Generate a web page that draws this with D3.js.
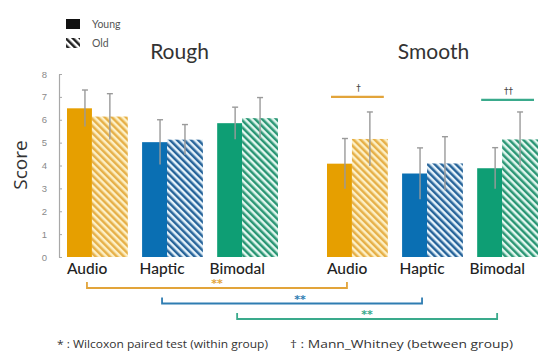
<!DOCTYPE html>
<html>
<head>
<meta charset="utf-8">
<script src="https://cdn.jsdelivr.net/npm/d3@7"></script>
<style>
  body { margin: 0; background: #fff; }
  svg { display: block; }
</style>
</head>
<body>
<div id="chart"></div>
<script>
// data
var textures = ['Rough', 'Smooth'];
var modalities = ['Audio', 'Haptic', 'Bimodal'];
var ageGroups = ['Young', 'Old'];

var roughYoung = [6.5, 5.02, 5.85];
var roughOld = [6.14, 5.13, 6.07];
var smoothYoung = [4.08, 3.65, 3.88];
var smoothOld = [5.16, 4.09, 5.14];

var roughYoungErr = [0.8, 0.98, 0.7];
var roughOldErr = [1.0, 0.66, 0.9];
var smoothYoungErr = [1.1, 1.12, 0.9];
var smoothOldErr = [1.18, 1.17, 1.2];

var yTicks = [0, 1, 2, 3, 4, 5, 6, 7, 8];

// within group (rough vs smooth, young) -> "**"
var withinMarks = ['**', '**', '**'];
// between group (young vs old) marks
var betweenTexture = ['Smooth', 'Smooth'];
var betweenModality = ['Audio', 'Bimodal'];
var betweenMarks = ['\u2020', '\u2020\u2020'];

var footnotes = ['* : Wilcoxon paired test (within group)', '\u2020 : Mann_Whitney (between group)'];

var W = 539, H = 352;

var solid = { Audio: '#E69F00', Haptic: '#0A6FB3', Bimodal: '#0E9E74' };
var stripe = { Audio: '#E6B048', Haptic: '#27649A', Bimodal: '#2A9674' };
var stripeBg = { Audio: '#FDF0C6', Haptic: '#E6F3FB', Bimodal: '#E2F7EF' };
var bracketCol = { Audio: '#E2A43A', Haptic: '#2F7DB2', Bimodal: '#3AAA8C' };

var svg = d3.select('#chart').append('svg')
  .attr('width', W)
  .attr('height', H);

var defs = svg.append('defs');
function hatch(id, fg, bg) {
  var p = defs.append('pattern')
    .attr('id', id)
    .attr('patternUnits', 'userSpaceOnUse')
    .attr('width', 5)
    .attr('height', 5)
    .attr('patternTransform', 'rotate(-45)');
  p.append('rect').attr('width', 5).attr('height', 5).attr('fill', bg);
  p.append('rect').attr('width', 2.5).attr('height', 5).attr('fill', fg);
}
modalities.forEach(function(m) { hatch('hatch-' + m, stripe[m], stripeBg[m]); });
hatch('hatch-legend', '#222', '#fff');

// scales
var y = d3.scaleLinear().domain([0, 8]).range([257, 74]);

var xRough = d3.scaleBand().domain(modalities).range([67, 278]).paddingInner(0.19);
var xSmooth = d3.scaleBand().domain(modalities).range([327, 538]).paddingInner(0.19);
var xTex = d3.scaleOrdinal().domain(textures).range([xRough, xSmooth]);
var bw = xRough.bandwidth();
var youngW = bw * 0.41; // young bar is the narrower solid part

// rows
var means = { Rough: [roughYoung, roughOld], Smooth: [smoothYoung, smoothOld] };
var errs = { Rough: [roughYoungErr, roughOldErr], Smooth: [smoothYoungErr, smoothOldErr] };
var rows = [];
textures.forEach(function(t) {
  modalities.forEach(function(m, i) {
    ageGroups.forEach(function(g, j) {
      rows.push({ texture: t, modality: m, group: g, mean: means[t][j][i], err: errs[t][j][i] });
    });
  });
});

function barX(d) {
  var x0 = xTex(d.texture)(d.modality);
  return d.group === 'Young' ? x0 : x0 + youngW;
}
function barW(d) {
  return d.group === 'Young' ? youngW : bw - youngW;
}
function errX(d) {
  return d.group === 'Young' ? barX(d) + youngW * 0.72 : barX(d) + barW(d) / 2;
}

// bars
svg.selectAll('.bar')
  .data(rows)
  .enter()
  .append('rect')
    .attr('class', 'bar')
    .attr('x', barX)
    .attr('width', barW)
    .attr('y', function(d) { return y(d.mean); })
    .attr('height', function(d) { return y(0) - y(d.mean); })
    .attr('fill', function(d) {
      return d.group === 'Young' ? solid[d.modality] : 'url(#hatch-' + d.modality + ')';
    });

// error bars
var eb = svg.selectAll('.err')
  .data(rows)
  .enter()
  .append('g')
    .attr('class', 'err')
    .attr('stroke', '#9a9a9a')
    .attr('stroke-width', 1.4);
eb.append('line')
  .attr('x1', errX).attr('x2', errX)
  .attr('y1', function(d) { return y(d.mean - d.err); })
  .attr('y2', function(d) { return y(d.mean + d.err); });
eb.append('line')
  .attr('x1', function(d) { return errX(d) - 3; })
  .attr('x2', function(d) { return errX(d) + 3; })
  .attr('y1', function(d) { return y(d.mean + d.err); })
  .attr('y2', function(d) { return y(d.mean + d.err); });

// y axis
var yAxis = d3.axisLeft(y)
  .tickValues(yTicks)
  .tickFormat(d3.format('d'))
  .tickSizeInner(-3)
  .tickSizeOuter(0)
  .tickPadding(12);

var yg = svg.append('g')
  .attr('transform', 'translate(59,0)')
  .call(yAxis);
yg.select('.domain').attr('stroke', '#a8a8a8').attr('stroke-width', 1.2);
yg.selectAll('.tick line').attr('stroke', '#a8a8a8');
yg.selectAll('.tick text')
  .attr('fill', '#8a8a8a')
  .style('font-family', 'Liberation Sans, Arial, sans-serif')
  .style('font-size', '9.5px');

svg.append('text')
  .attr('transform', 'translate(27,165) rotate(-90)')
  .attr('text-anchor', 'middle')
  .attr('fill', '#333')
  .style('font-family', 'Open Sans, sans-serif')
  .style('font-size', '19px')
  .text('Score');

// category labels
textures.forEach(function(t) {
  svg.selectAll('.cat-' + t)
    .data(modalities)
    .enter()
    .append('text')
      .attr('x', function(m) { return xTex(t)(m) + bw * 0.33; })
      .attr('y', 274)
      .attr('text-anchor', 'middle')
      .attr('fill', '#222')
      .style('font-family', 'Lato, sans-serif')
      .style('font-size', '15.5px')
      .style('font-weight', '500')
      .text(function(m) { return m; });
});

// texture titles
svg.selectAll('.title')
  .data(textures)
  .enter()
  .append('text')
    .attr('x', function(t) { var s = xTex(t); return (s.range()[0] + s.range()[1]) / 2 + (t === 'Rough' ? 7 : 1); })
    .attr('y', 59)
    .attr('text-anchor', 'middle')
    .attr('fill', '#333')
    .style('font-family', 'Lato, sans-serif')
    .style('font-size', '21px')
    .text(function(t) { return t; });

// legend
var lg = svg.append('g').attr('transform', 'translate(66,19)');
lg.append('rect').attr('width', 14).attr('height', 10).attr('fill', '#111');
lg.append('rect').attr('y', 19).attr('width', 14).attr('height', 10).attr('fill', 'url(#hatch-legend)');
lg.selectAll('.lg-text')
  .data(ageGroups)
  .enter()
  .append('text')
    .attr('x', 26)
    .attr('y', function(d, i) { return 9 + i * 19; })
    .attr('fill', '#555')
    .style('font-family', 'Lato, sans-serif')
    .style('font-size', '10.5px')
    .text(function(d) { return d; });

// between-group marks (above bars)
betweenMarks.forEach(function(mark, i) {
  var t = betweenTexture[i], m = betweenModality[i];
  var x0 = xTex(t)(m);
  var top = d3.max(rows.filter(function(r) { return r.texture === t && r.modality === m; }),
    function(r) { return r.mean + r.err; });
  var ly = y(top) - (i === 0 ? 15 : 12);
  svg.append('line')
    .attr('x1', x0 + 4).attr('x2', x0 + bw - 4)
    .attr('y1', ly).attr('y2', ly)
    .attr('stroke', bracketCol[m])
    .attr('stroke-width', 2.2);
  svg.append('text')
    .attr('x', x0 + bw / 2 + 1)
    .attr('y', ly - 6)
    .attr('text-anchor', 'middle')
    .attr('fill', '#444')
    .style('font-family', 'DejaVu Sans, sans-serif')
    .style('font-size', '9px')
    .text(mark);
});

// within-group brackets (below axis)
modalities.forEach(function(m, i) {
  var xa = xRough(m) + youngW * 0.72 + 2;
  var xb = xSmooth(m) + youngW * 0.72 + 2;
  var by = 288 + i * 15.5;
  svg.append('path')
    .attr('d', 'M' + xa + ',' + (by - 6) + 'V' + by + 'H' + xb + 'V' + (by - 6))
    .attr('fill', 'none')
    .attr('stroke', bracketCol[m])
    .attr('stroke-width', 1.8);
  svg.append('text')
    .attr('x', (xa + xb) / 2 + (i === 1 ? 8 : 0))
    .attr('y', by - 1)
    .attr('text-anchor', 'middle')
    .attr('fill', bracketCol[m])
    .style('font-family', 'DejaVu Sans, sans-serif')
    .style('font-size', '11px')
    .style('font-weight', 'bold')
    .text(withinMarks[i]);
});

// footnote
var footX = [57, 290], footLen = [211, 223];
svg.selectAll('.foot')
  .data(footnotes)
  .enter()
  .append('text')
    .attr('x', function(d, i) { return footX[i]; })
    .attr('y', 348)
    .attr('textLength', function(d, i) { return footLen[i]; })
    .attr('lengthAdjust', 'spacingAndGlyphs')
    .attr('fill', '#333')
    .style('font-family', 'Open Sans, sans-serif')
    .style('font-size', '10.5px')
    .text(function(d) { return d; });
</script>
</body>
</html>
